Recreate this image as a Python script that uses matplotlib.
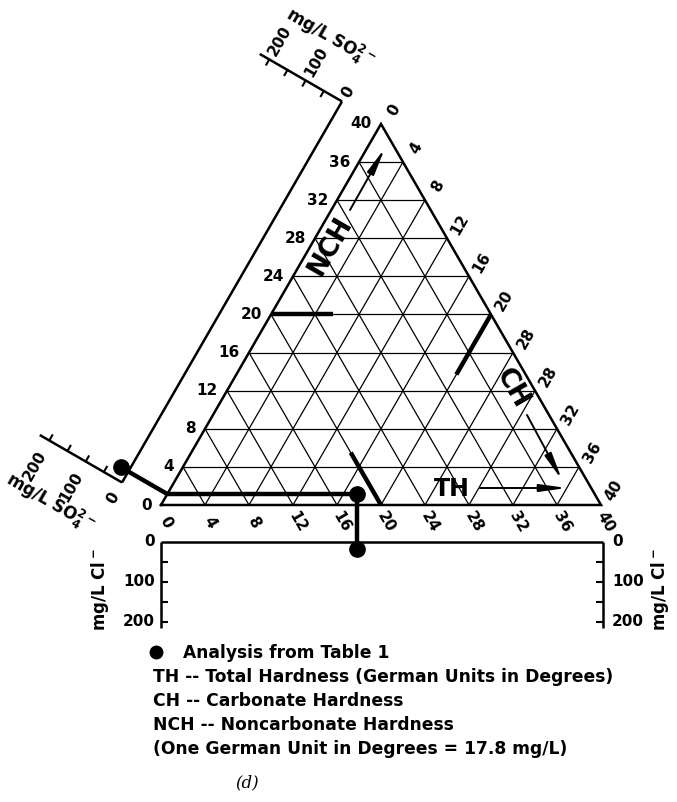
import numpy as np
import matplotlib.pyplot as plt

plt.rcParams['font.family'] = ['DejaVu Sans']
plt.rcParams['font.weight'] = 'bold'
plt.rcParams['mathtext.default'] = 'bf'

# ---- data ----
nch_ticks = [0, 4, 8, 12, 16, 20, 24, 28, 32, 36, 40]
th_ticks = [0, 4, 8, 12, 16, 20, 24, 28, 32, 36, 40]
ch_labels = ['0', '4', '8', '12', '16', '20', '28', '28', '32', '36', '40']
so4_ticks = [0, 50, 100, 150, 200]
so4_labels = [0, 100, 200]
cl_ticks = [0, 50, 100, 150, 200]
cl_labels = [0, 100, 200]

# short bold marks at 20 degrees on each side (start value, length in degrees)
mark_nch, mark_nch_len = 20, 5.6
mark_ch, mark_ch_len = 20, 6.3
mark_th, mark_th_len = 20, 5.5

# analysis from table 1
sample_nch = 1.15   # degrees
sample_th = 17.2    # base position, degrees
sample_so4 = 20     # mg/L
sample_cl = 18      # mg/L

legend_lines = ['TH -- Total Hardness (German Units in Degrees)',
                'CH -- Carbonate Hardness',
                'NCH -- Noncarbonate Hardness',
                '(One German Unit in Degrees = 17.8 mg/L)']

# ---- figure in pixel coordinates ----
W, H = 677, 802
fig = plt.figure(figsize=(W / 100, H / 100), dpi=100)
ax = fig.add_axes([0, 0, 1, 1])
ax.set_xlim(0, W)
ax.set_ylim(H, 0)
ax.axis('off')

x0, y0 = 161, 505
unit = 440 / 40
s3 = np.sqrt(3) / 2
u = np.array([0.5, -s3])      # along left edge, upward
p = np.array([-s3, -0.5])     # perpendicular, outward from left edge
fs = 11


def pt(b, n):
    return np.array([x0 + unit * b + unit * 0.5 * n, y0 - unit * s3 * n])


def seg(a, b, **kw):
    ax.plot([a[0], b[0]], [a[1], b[1]], color='black', solid_capstyle='butt', **kw)


# grid
for k in nch_ticks[1:-1]:
    seg(pt(0, k), pt(40 - k, k), lw=0.9)
    seg(pt(k, 0), pt(k, 40 - k), lw=0.9)
    seg(pt(k, 0), pt(0, k), lw=0.9)

# triangle outline
tri = np.array([pt(0, 0), pt(40, 0), pt(0, 40), pt(0, 0)])
ax.plot(tri[:, 0], tri[:, 1], color='black', lw=1.8, solid_joinstyle='miter')

# tick labels on the triangle
for v in nch_ticks:
    q = pt(0, v)
    ax.text(q[0] - 9, q[1], str(v), ha='right', va='center', fontsize=fs)
for v in th_ticks:
    q = pt(v, 0)
    ax.text(q[0] + 5, q[1] + 17, str(v), ha='center', va='center',
            fontsize=fs, rotation=-60)
for i, lab in enumerate(ch_labels):
    n = 40 - 4 * i
    q = pt(40 - n, n)
    ax.text(q[0] + 13, q[1] - 14, lab, ha='center', va='center',
            fontsize=fs, rotation=60)

# bold marks at 20
seg(pt(0, mark_nch), pt(mark_nch_len, mark_nch), lw=3.2)
seg(pt(mark_ch, 40 - mark_ch), pt(mark_ch, 40 - mark_ch - mark_ch_len), lw=3.2)
seg(pt(mark_th, 0), pt(mark_th - mark_th_len, mark_th_len), lw=3.2)

# axis names with arrows
arrow = dict(arrowstyle='-|>,head_length=1.6,head_width=0.22',
             lw=1.4, color='black', shrinkA=0, shrinkB=0)
ax.text(330, 246, 'NCH', rotation=60, ha='center', va='center', fontsize=19)
ax.annotate('', xy=(385, 148), xytext=(350, 210), arrowprops=arrow)
ax.text(512, 388, 'CH', rotation=-60, ha='center', va='center', fontsize=19)
ax.annotate('', xy=(562, 480), xytext=(527, 415), arrowprops=arrow)
ax.text(452, 489, 'TH', ha='center', va='center', fontsize=17)
ax.annotate('', xy=(567, 488), xytext=(480, 488), arrowprops=arrow)

# SO4 scale box
box_off = 45
so4_px = 0.42
bot_c = pt(0, 0) + box_off * p
top_c = pt(0, 40) + box_off * p
seg(bot_c, top_c, lw=1.8)
for corner, tdir, lside in [(top_c, -u, u), (bot_c, u, -u)]:
    seg(corner, corner + 95 * p, lw=1.8)
    for v in so4_ticks[1:]:
        q = corner + v * so4_px * p
        seg(q, q + 7 * tdir, lw=1.5)
    for v in so4_labels:
        q = corner + v * so4_px * p
        if lside[1] < 0:
            q = q + 6 * lside
            ax.text(q[0], q[1], str(v), rotation=60, rotation_mode='anchor',
                    ha='left', va='center', fontsize=fs)
        else:
            q = q + 13 * lside
            ax.text(q[0], q[1], str(v), rotation=60, rotation_mode='anchor',
                    ha='right', va='center', fontsize=fs)
ax.text(330, 38, 'mg/L SO$_4^{2-}$', rotation=-30, ha='center', va='center', fontsize=12)
ax.text(50, 503, 'mg/L SO$_4^{2-}$', rotation=-30, ha='center', va='center', fontsize=12)

# Cl scale box
cl_top = 542
cl_px = 0.4
xl, xr = pt(0, 0)[0], pt(40, 0)[0] + 2
seg((xl, cl_top), (xr, cl_top), lw=1.8)
seg((xl, cl_top), (xl, cl_top + 86), lw=1.8)
seg((xr, cl_top), (xr, cl_top + 86), lw=1.8)
for v in cl_ticks[1:]:
    y = cl_top + v * cl_px
    seg((xl, y), (xl + 7, y), lw=1.5)
    seg((xr, y), (xr - 7, y), lw=1.5)
for v in cl_labels:
    y = cl_top + v * cl_px
    ax.text(xl - 6, y, str(v), ha='right', va='center', fontsize=fs)
    ax.text(xr + 9, y, str(v), ha='left', va='center', fontsize=fs)
ax.text(100, 590, 'mg/L Cl$^-$', rotation=90, ha='center', va='center', fontsize=12)
ax.text(660, 590, 'mg/L Cl$^-$', rotation=90, ha='center', va='center', fontsize=12)

# analysis from table 1
edge = pt(0, sample_nch)
s_pt = pt(sample_th, sample_nch)
so4_pt = edge + (box_off + sample_so4 * so4_px) * p
cl_pt = (s_pt[0], cl_top + sample_cl * cl_px)
seg(so4_pt, edge, lw=3.2)
seg(edge, s_pt, lw=3.2)
seg(s_pt, cl_pt, lw=3.2)
for q in [so4_pt, s_pt, cl_pt]:
    ax.plot(q[0], q[1], 'o', color='black', ms=11)

# legend
ax.plot(156, 652, 'o', color='black', ms=9)
ax.text(183, 653, 'Analysis from Table 1', ha='left', va='center', fontsize=12.3)
for i, line in enumerate(legend_lines):
    ax.text(153, 677 + 24 * i, line, ha='left', va='center', fontsize=12.3)
ax.text(247, 783, '(d)', ha='center', va='center', fontsize=12,
        family='DejaVu Serif', style='italic', weight='normal')

fig.savefig('out.png', dpi=100)
